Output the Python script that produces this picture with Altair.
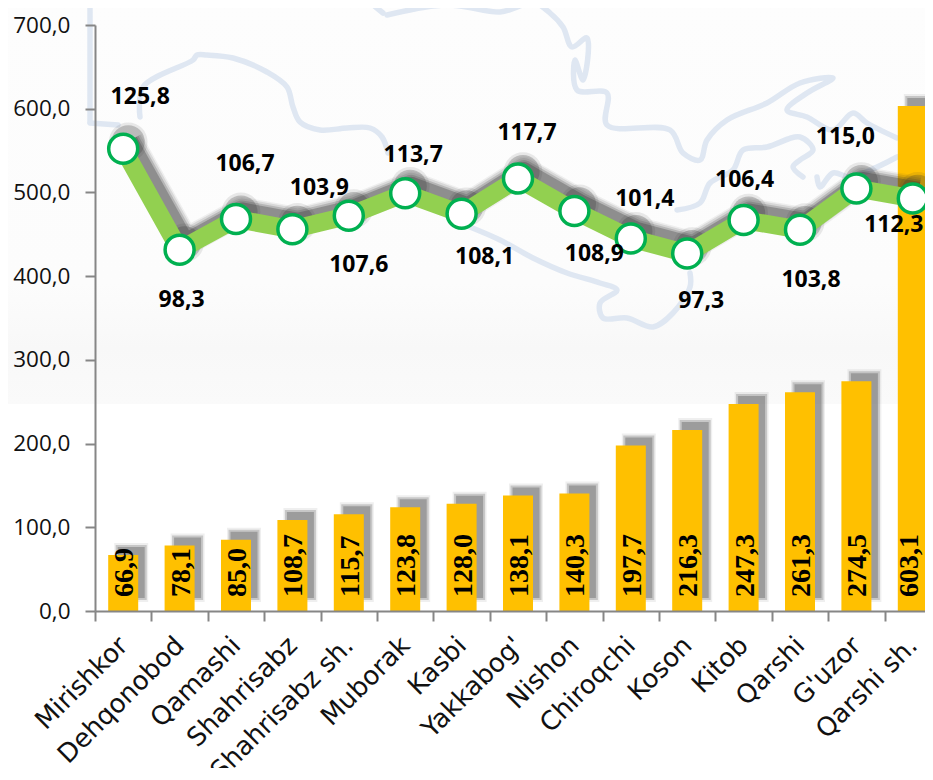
import altair as alt
import pandas as pd

categories = ["Mirishkor", "Dehqonobod", "Qamashi", "Shahrisabz", "Shahrisabz sh.", "Muborak", "Kasbi",
              "Yakkabog'", "Nishon", "Chiroqchi", "Koson", "Kitob", "Qarshi", "G'uzor", "Qarshi sh."]
bar_values = [66.9, 78.1, 85.0, 108.7, 115.7, 123.8, 128.0, 138.1, 140.3, 197.7, 216.3, 247.3, 261.3, 274.5, 603.1]
line_values = [125.8, 98.3, 106.7, 103.9, 107.6, 113.7, 108.1, 117.7, 108.9, 101.4, 97.3, 106.4, 103.8, 115.0, 112.3]
label_dx = [17, 2, 9, 27, 10, 8, 23, 9, 20, 14, 14, 1, 11, -11, -19]
label_dy = [-52, 50, -55, -41, 49, -38, 43, -46, 43, -39, 47, -40, 50, -51, 27]

# Pale backdrop map outline, traced in picture coordinates
map_paths = [
    [(90, 0), (90, 122)],
    [(90, 123), (118, 125)],
    [(140, 117), (143, 87), (193, 60), (197, 55), (207, 55), (233, 58), (267, 72), (287, 87), (293, 107),
     (300, 122), (320, 130), (347, 128), (370, 128), (382, 137), (388, 153)],
    [(367, 0), (383, 13)],
    [(387, 15), (447, 5), (500, 12), (517, 7), (533, 2), (550, 13), (563, 27), (572, 47), (587, 38), (583, 80),
     (575, 60), (577, 90), (607, 93), (607, 125), (670, 130), (683, 153), (700, 160), (707, 140), (727, 120),
     (767, 103), (800, 83), (833, 78), (807, 93), (787, 110), (807, 117), (833, 130), (853, 113), (867, 123), (897, 138)],
    [(677, 210), (700, 203), (710, 183), (733, 170), (743, 150), (767, 147), (800, 137), (813, 150), (800, 160),
     (793, 167), (803, 177)],
    [(817, 177), (820, 187), (833, 173), (850, 177), (877, 167), (897, 157)],
    [(470, 227), (500, 240), (533, 258), (567, 273), (600, 283), (617, 290), (600, 303), (603, 318), (627, 318),
     (653, 327), (673, 313), (690, 287), (690, 273)],
]
backdrop = {"x0": [8], "x1": [941], "y0": [0], "y1": [404]}

PLOT_W, PLOT_H = 846, 586
GREEN_LINE, GREEN_RING, GOLD = "#92d050", "#00b050", "#ffc000"

df = pd.DataFrame({
    "cat": categories, "bar": bar_values, "line": line_values, "zero": [0] * len(categories),
    "bar_label": [f"{v:.1f}".replace(".", ",") for v in bar_values],
    "line_label": [f"{v:.1f}".replace(".", ",") for v in line_values],
})

x_band = alt.Scale(domain=categories, paddingInner=0, paddingOuter=0)
x_none = alt.X("cat:N", sort=categories, scale=x_band, axis=None)
y_bar_scale = alt.Scale(domain=[0, 700], nice=False)
y_line_scale = alt.Scale(domain=[0, 159.5], nice=False)
y_line = alt.Y("line:Q", scale=y_line_scale, axis=None)

x_axis = alt.Axis(
    labelAngle=-45, labelAlign="right", labelBaseline="middle", labelFont="DejaVu Sans", labelFontSize=26,
    labelColor="#111111", labelPadding=20, labelOverlap=False, labelLimit=300, tickBand="extent", tickSize=10,
    tickWidth=2, tickColor="#868686", domainColor="#868686", domainWidth=2, grid=False, zindex=1)
y_axis = alt.Axis(
    values=[0, 100, 200, 300, 400, 500, 600, 700],
    labelExpr="replace(format(datum.value, '.1f'), '.', ',')", labelFont="Open Sans", labelFontSize=22.5,
    labelColor="#111111", labelPadding=15, tickSize=10, tickWidth=2, tickColor="#868686",
    domainColor="#868686", domainWidth=2, grid=False, zindex=1)
x_bar = alt.X("cat:N", sort=categories, scale=x_band, title=None, axis=x_axis)
y_bar = alt.Y("bar:Q", scale=y_bar_scale, title=None, axis=y_axis)

# Picture-coordinate scales for the backdrop only
pic_x = alt.Scale(domain=[0, 941], range=[-95, PLOT_W], nice=False, zero=False)
pic_y = alt.Scale(domain=[0, 780], range=[-25, 755], nice=False, zero=False)

bg = alt.Chart(pd.DataFrame(backdrop)).mark_rect(
    color={"gradient": "linear", "x1": 0, "x2": 0, "y1": 0, "y2": 1, "stops": [
        {"offset": 0, "color": "#fdfdfd"},
        {"offset": 0.7, "color": "#fcfcfc"},
        {"offset": 0.86, "color": "#f8f8f8"},
        {"offset": 1, "color": "#fafafa"},
    ]}
).encode(
    x=alt.X("x0:Q", scale=pic_x, axis=None), x2="x1:Q",
    y=alt.Y("y0:Q", scale=pic_y, axis=None), y2="y1:Q",
)

rows = []
for i, path in enumerate(map_paths):
    for j, (px, py) in enumerate(path):
        rows.append({"path": i, "o": j, "px": px, "py": py})
map_lines = alt.Chart(pd.DataFrame(rows)).mark_line(
    color="#dfe7f2", strokeWidth=5.5, strokeJoin="round", strokeCap="round", interpolate="catmull-rom"
).encode(
    x=alt.X("px:Q", scale=pic_x, axis=None, sort=None),
    y=alt.Y("py:Q", scale=pic_y, axis=None),
    detail="path:N", order="o:Q",
)

bar_base = alt.Chart(df)
shadow_layers = [
    bar_base.mark_bar(color="#7f7f7f", opacity=op, size=sz, xOffset=8, yOffset=yo, y2Offset=y2o).encode(
        x=x_bar, y=y_bar, y2=alt.datum(0))
    for sz, op, yo, y2o in [(34, 0.12, -12, -9), (31, 0.35, -10, -11), (27, 0.6, -8, -13)]
]
bars = bar_base.mark_bar(color=GOLD, size=30).encode(x=x_bar, y=y_bar)
last_cat = categories[-1]


def value_text(source, cross_shift):
    return source.mark_text(
        angle=270, align="left", baseline="middle", dx=14, dy=cross_shift, font="Liberation Serif", fontWeight="bold",
        fontSize=28, color="#000000"
    ).encode(x=x_bar, y=alt.Y("zero:Q", scale=y_bar_scale, title=None, axis=y_axis), text="bar_label:N")


bar_text = value_text(bar_base.transform_filter(alt.datum.cat != last_cat), 2)
bar_text_last = value_text(bar_base.transform_filter(alt.datum.cat == last_cat), -3)
bar_group = alt.layer(*shadow_layers, bars, bar_text, bar_text_last)

line_base = alt.Chart(df)
line_shadow = [
    line_base.mark_line(color="#333333", opacity=op, strokeWidth=w, xOffset=6, yOffset=-8, strokeJoin="round").encode(
        x=x_none, y=y_line)
    for w, op in [(28, 0.07), (25, 0.12), (21, 0.2), (17, 0.3)]
]
point_shadow = [
    line_base.mark_point(shape="circle", filled=True, color="#333333", opacity=op, size=s, xOffset=5, yOffset=-7).encode(
        x=x_none, y=y_line)
    for s, op in [(1500, 0.1), (1100, 0.25)]
]
line_main = line_base.mark_line(color=GREEN_LINE, strokeWidth=18, strokeJoin="miter").encode(x=x_none, y=y_line)
points = line_base.mark_point(shape="circle", filled=True, fill="#ffffff", stroke=GREEN_RING, strokeWidth=3.5,
                              opacity=1, size=841).encode(x=x_none, y=y_line)
line_labels = [
    line_base.transform_filter(alt.datum.cat == c).mark_text(
        dx=dx, dy=dy, font="Open Sans", fontWeight="bold", fontSize=23, color="#000000"
    ).encode(x=x_none, y=y_line, text="line_label:N")
    for c, dx, dy in zip(categories, label_dx, label_dy)
]
line_group = alt.layer(*line_shadow, *point_shadow, line_main, points, *line_labels)

chart = alt.layer(bg, map_lines, bar_group, line_group).resolve_scale(x="independent", y="independent").properties(
    width=PLOT_W, height=PLOT_H, background="#ffffff",
    padding={"left": 87, "top": 17, "right": -16, "bottom": 157},
    autosize=alt.AutoSizeParams(type="none"),
).configure_view(stroke=None)

chart.save("out.html", embed_options={"renderer": "svg", "actions": False})
